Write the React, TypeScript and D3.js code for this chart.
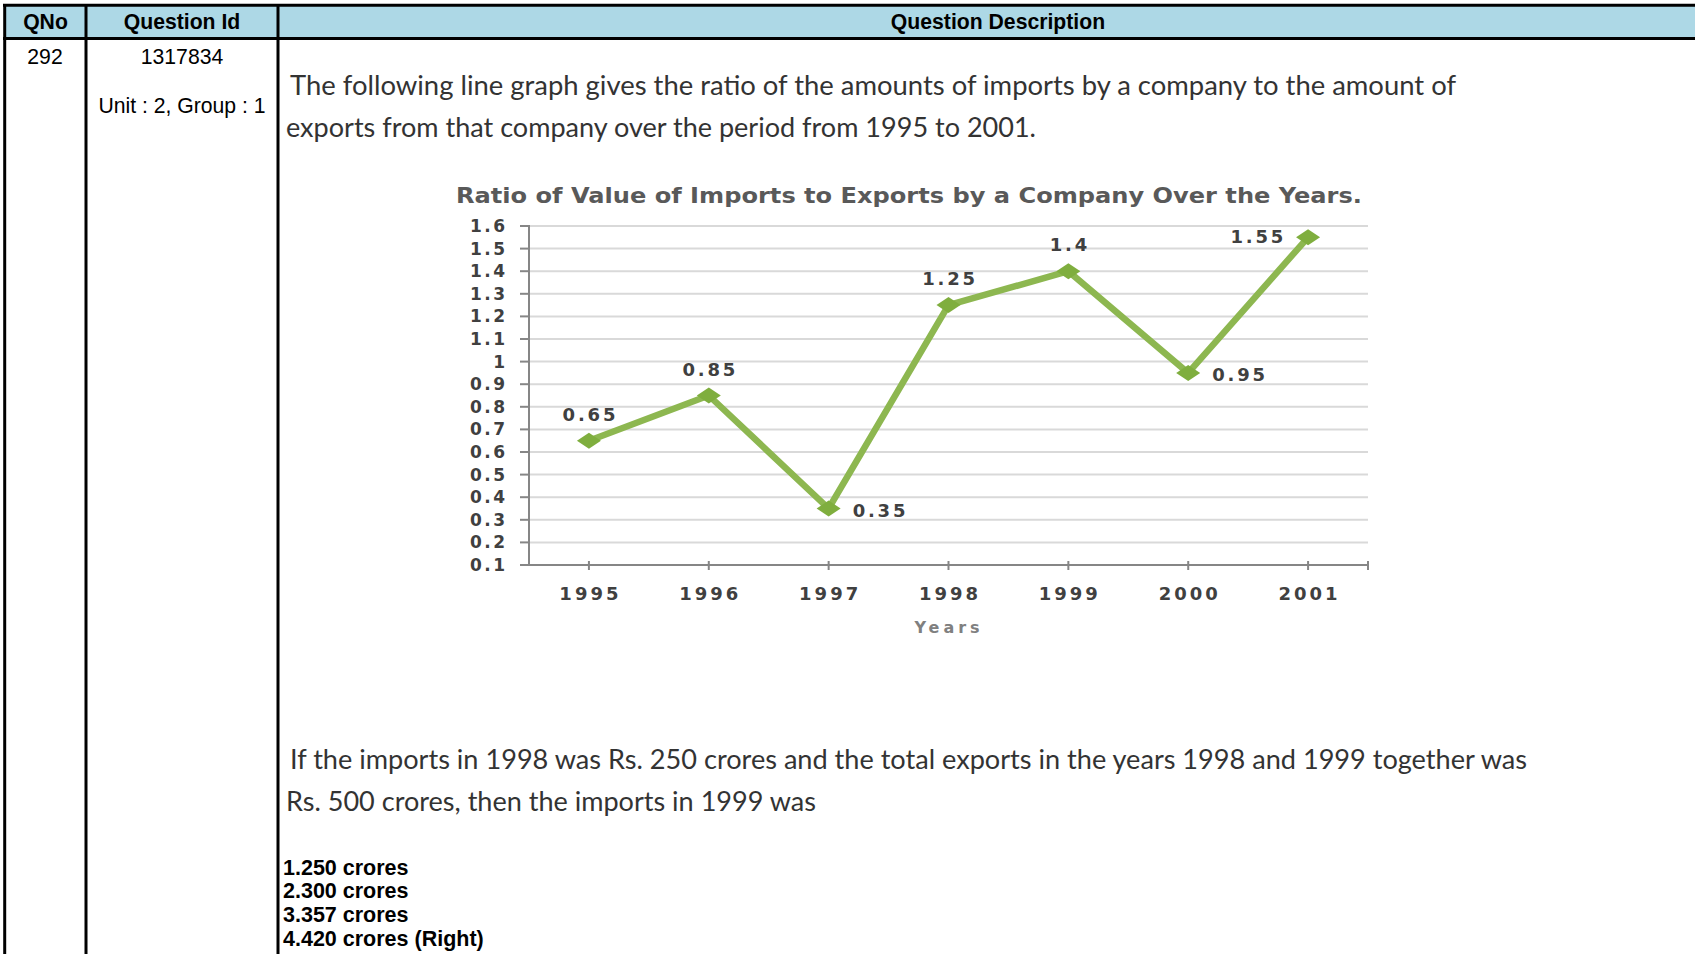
import { useMemo } from "react";
import * as d3 from "d3";

const YEARS = ["1995", "1996", "1997", "1998", "1999", "2000", "2001"];
const RATIOS = [0.65, 0.85, 0.35, 1.25, 1.4, 0.95, 1.55];
const LABEL_SIDE = ["top", "top", "right", "top", "top", "right", "left"];
const Y_TICKS = [0.1, 0.2, 0.3, 0.4, 0.5, 0.6, 0.7, 0.8, 0.9, 1, 1.1, 1.2, 1.3, 1.4, 1.5, 1.6];

const TITLE = "Ratio of Value of Imports to Exports by a Company Over the Years.";
const X_TITLE = "Years";
const INTRO = [
  "The following line graph gives the ratio of the amounts of imports by a company to the amount of",
  "exports from that company over the period from 1995  to 2001.",
];
const QUESTION = [
  "If the imports in 1998  was Rs. 250  crores and the total exports in the years 1998  and 1999  together was",
  "Rs. 500  crores, then the imports in 1999  was",
];
const OPTIONS = ["1.250 crores", "2.300 crores", "3.357 crores", "4.420 crores (Right)"];

const W = 1695;
const H = 954;
const PLOT = { left: 529, right: 1368, top: 226, bottom: 565 };
const GREEN = "#8db750";
const CHART_FONT = "'DejaVu Sans', Verdana, sans-serif";

export default function App() {
  const xScale = useMemo(
    () => d3.scaleBand<string>().domain(YEARS).range([PLOT.left, PLOT.right]),
    []
  );
  const yScale = useMemo(
    () => d3.scaleLinear().domain([0.1, 1.6]).range([PLOT.bottom, PLOT.top]),
    []
  );
  const cx = (yr: string) => (xScale(yr) ?? 0) + xScale.bandwidth() / 2;

  const linePath = d3
    .line<number>()
    .x((_, i) => cx(YEARS[i]))
    .y((d) => yScale(d))(RATIOS);

  return (
    <div style={{ position: "absolute", left: 0, top: 0 }}>
      <svg width={W} height={H} style={{ display: "block", background: "#fff" }}>
        {/* table frame */}
        <rect x={4} y={5} width={W} height={33.5} fill="#add8e6" />
        <g stroke="#000" strokeWidth={3}>
          <line x1={3} x2={W} y1={5.3} y2={5.3} />
          <line x1={3} x2={W} y1={38.5} y2={38.5} />
          <line x1={4.7} x2={4.7} y1={4} y2={H} />
          <line x1={86} x2={86} y1={4} y2={H} />
          <line x1={278} x2={278} y1={4} y2={H} />
        </g>
        <g fontFamily="'Liberation Sans', Arial, sans-serif" fontSize={21.2} textAnchor="middle" fill="#000">
          <text x={45.5} y={29} fontWeight="bold">QNo</text>
          <text x={182} y={29} fontWeight="bold">Question Id</text>
          <text x={998} y={29} fontWeight="bold">Question Description</text>
          <text x={45} y={63.5}>292</text>
          <text x={182} y={63.5}>1317834</text>
          <text x={182} y={112.5}>Unit : 2, Group : 1</text>
        </g>

        {/* intro and question text */}
        <g fontFamily="Lato, 'Open Sans', sans-serif" fontSize={26} fill="#333">
          <text x={290} y={95} textLength={1166} lengthAdjust="spacingAndGlyphs">{INTRO[0]}</text>
          <text x={286} y={137} textLength={750} lengthAdjust="spacingAndGlyphs">{INTRO[1]}</text>
          <text x={290} y={769} textLength={1237} lengthAdjust="spacingAndGlyphs">{QUESTION[0]}</text>
          <text x={286} y={811} textLength={530} lengthAdjust="spacingAndGlyphs">{QUESTION[1]}</text>
        </g>

        {/* options */}
        <g fontFamily="'Liberation Sans', Arial, sans-serif" fontSize={21.5} fontWeight="bold" fill="#000">
          {OPTIONS.map((o, i) => (
            <text key={o} x={283} y={874.5 + i * 23.7}>{o}</text>
          ))}
        </g>

        {/* chart title */}
        <text
          x={456}
          y={203}
          fontFamily={CHART_FONT}
          fontWeight="bold"
          fontSize={21}
          fill="#595959"
          textLength={906}
          lengthAdjust="spacingAndGlyphs"
        >
          {TITLE}
        </text>

        {/* gridlines */}
        <g stroke="#d9d9d9" strokeWidth={2}>
          {Y_TICKS.filter((t) => t > 0.1).map((t) => (
            <line key={t} x1={PLOT.left} x2={PLOT.right} y1={yScale(t)} y2={yScale(t)} />
          ))}
        </g>

        {/* axes */}
        <g stroke="#868686" strokeWidth={2}>
          <line x1={PLOT.left} x2={PLOT.left} y1={PLOT.top - 1} y2={PLOT.bottom} />
          <line x1={PLOT.left} x2={PLOT.right} y1={PLOT.bottom} y2={PLOT.bottom} />
          {Y_TICKS.map((t) => (
            <line key={t} x1={PLOT.left - 9} x2={PLOT.left} y1={yScale(t)} y2={yScale(t)} />
          ))}
          {YEARS.map((yr) => (
            <line key={yr} x1={cx(yr)} x2={cx(yr)} y1={PLOT.bottom - 4} y2={PLOT.bottom + 5} />
          ))}
          <line x1={PLOT.right} x2={PLOT.right} y1={PLOT.bottom - 4} y2={PLOT.bottom + 5} />
        </g>

        {/* tick labels */}
        <g fontFamily={CHART_FONT} fontWeight="bold" fontSize={17} fill="#404040" letterSpacing={2.5}>
          {Y_TICKS.map((t) => (
            <text key={t} x={507.5} y={yScale(t) + 6} textAnchor="end">
              {d3.format("~g")(t)}
            </text>
          ))}
          {YEARS.map((yr) => (
            <text key={yr} x={cx(yr) + 1.5} y={600} textAnchor="middle" fontSize={18} letterSpacing={3}>
              {yr}
            </text>
          ))}
        </g>
        <text
          x={949}
          y={633}
          textAnchor="middle"
          fontFamily={CHART_FONT}
          fontWeight="bold"
          fontSize={16}
          letterSpacing={4}
          fill="#808080"
        >
          {X_TITLE}
        </text>

        {/* series */}
        <path d={linePath ?? ""} fill="none" stroke={GREEN} strokeWidth={6.5} strokeLinejoin="round" />
        {RATIOS.map((v, i) => {
          const x = cx(YEARS[i]);
          const y = yScale(v);
          return (
            <path
              key={i}
              d={`M${x - 12},${y} L${x},${y - 8} L${x + 12},${y} L${x},${y + 8} Z`}
              fill="#7fae3e"
            />
          );
        })}

        {/* data labels */}
        <g fontFamily={CHART_FONT} fontWeight="bold" fontSize={18} fill="#404040" letterSpacing={2.8}>
          {RATIOS.map((v, i) => {
            const x = cx(YEARS[i]);
            const y = yScale(v);
            const side = LABEL_SIDE[i];
            if (side === "top")
              return (
                <text key={i} x={x + 1.5} y={y - 20} textAnchor="middle">{v}</text>
              );
            if (side === "right")
              return (
                <text key={i} x={x + 24} y={y + 8} textAnchor="start">{v}</text>
              );
            return (
              <text key={i} x={x - 22} y={y + 6} textAnchor="end">{v}</text>
            );
          })}
        </g>
      </svg>
    </div>
  );
}
